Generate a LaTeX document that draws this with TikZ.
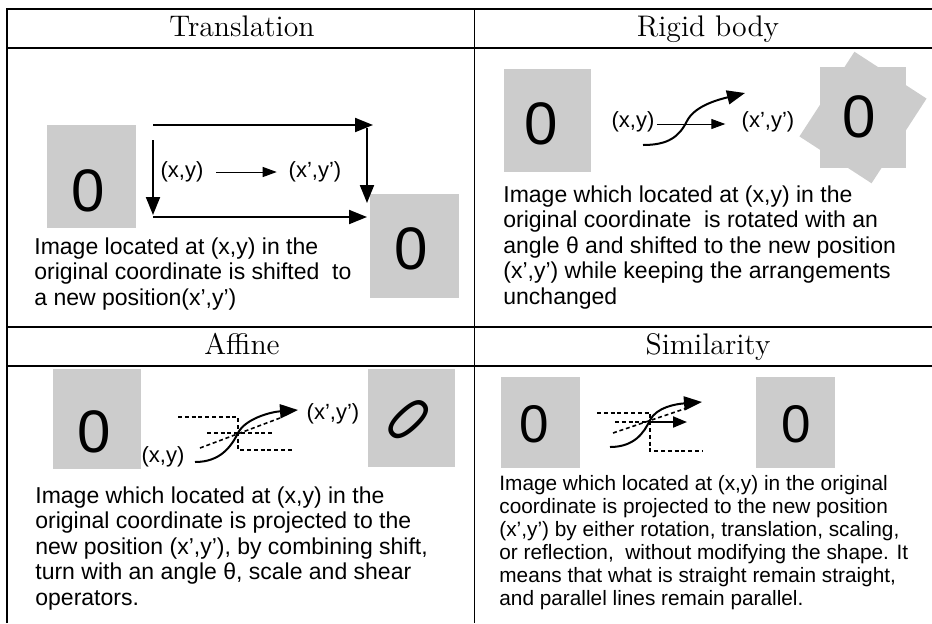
\documentclass[tikz,border=0pt]{standalone}
\usepackage{fontspec}
\newfontfamily\arial{Liberation Sans}
\usetikzlibrary{arrows.meta}
\definecolor{boxgray}{gray}{0.8}

\begin{document}
\begin{tikzpicture}[x=0.5pt,y=-0.5pt,
    rule/.style={line width=0.6pt},
    head/.style={font=\fontsize{14.9}{17}\selectfont,anchor=base},
    note/.style={font=\arial\fontsize{11.5}{12.8}\selectfont,align=left,anchor=north west,inner sep=0pt},
    small note/.style={note,font=\arial\fontsize{10.4}{11.5}\selectfont},
    coord/.style={font=\arial\fontsize{11}{13}\selectfont,inner sep=0pt},
    digit/.style={font=\arial\fontsize{30}{30}\selectfont,inner sep=0pt},
    small digit/.style={font=\arial\fontsize{26.5}{26.5}\selectfont,inner sep=0pt},
    fat/.style={line width=1pt,-{Triangle[length=9pt,width=7pt]}},
    medium/.style={line width=1pt,-{Triangle[length=7pt,width=5.5pt]}},
    slim/.style={line width=0.5pt,-{Triangle[length=7pt,width=5pt]}},
    guide/.style={line width=0.8pt,dash pattern=on 2pt off 1.4pt}]
\useasboundingbox (0,0) rectangle (932,623);

\draw[rule] (7,623) -- (7,9) -- (932,9);
\draw[rule] (7,48) -- (932,48);
\draw[rule] (7,327) -- (932,327);
\draw[rule] (7,366) -- (932,366);
\draw[rule] (474.5,9) -- (474.5,623);

\node[head] (hTrans)  at (242,36.5) {Translation};
\node[head] (hRigid)  at (708,36.5) {Rigid body};
\node[head] (hAffine) at (242,354)  {Affine};
\node[head] (hSimil)  at (708,354)  {Similarity};

% translation
\fill[boxgray] (47,125) rectangle (136,228);
\fill[boxgray] (370,194) rectangle (459,298);
\node[digit] (tZero)    at (88,190.5) {0};
\node[digit] (tZeroNew) at (411,249)  {0};
\coordinate (tTopA) at (153,125);
\coordinate (tTopB) at (373,125);
\coordinate (tDownA) at (367,128);
\coordinate (tDownB) at (367,203);
\coordinate (tLeftA) at (153,140);
\coordinate (tLeftB) at (153,215);
\coordinate (tBotA) at (153,217);
\coordinate (tBotB) at (367,217);
\draw[fat] (tTopA) -- (tTopB);
\draw[fat] (tDownA) -- (tDownB);
\draw[fat] (tLeftA) -- (tLeftB);
\draw[fat] (tBotA) -- (tBotB);
\node[coord] (tXY)    at (182,172) {(x,y)};
\node[coord] (tXYnew) at (315,172) {(x’,y’)};
\draw[slim,shorten <=6.3pt,shorten >=5.8pt] (tXY) -- (tXYnew);
\node[note] (tNote) at (34,237)
  {Image located at (x,y) in the\\original coordinate is shifted\ \ to\\a new position(x’,y’)};

% rigid body
\fill[boxgray] (504,69) rectangle (591,172);
\fill[boxgray] (820,67) rectangle (906,168);
\fill[boxgray,rotate around={-33:(863,117.5)}] (820,67) rectangle (906,168);
\node[digit] (rZero)    at (541,124) {0};
\node[digit] (rZeroNew) at (859,117) {0};
\node[coord] (rXY)    at (633,122) {(x,y)};
\node[coord] (rXYnew) at (768,122) {(x’,y’)};
\draw[slim] ([xshift=1pt,yshift=-1pt]rXY.east) -- ([xshift=-8pt,yshift=-1pt]rXYnew.west);
\coordinate (rCurveA) at (643,145);
\coordinate (rCurveM) at (687,121);
\coordinate (rCurveB) at (745,93);
\draw[fat] (rCurveA) .. controls (668,145) and (679,137) .. (rCurveM)
                     .. controls (695,105) and (721,99) .. (rCurveB);
\node[note] (rNote) at (503,185)
  {Image which located at (x,y) in the\\original coordinate\ \ is rotated with an\\angle θ and shifted to the new position\\(x’,y’) while keeping the arrangements\\unchanged};

% affine
\fill[boxgray] (53,369) rectangle (141,469);
\fill[boxgray] (368,369) rectangle (455,467);
\node[digit] (aZero) at (94,432) {0};
\node[digit,font=\arial\fontsize{36}{36}\selectfont,rotate=-47,xscale=0.68,yscale=0.93]
  (aZeroNew) at (408.5,419.5) {0};
\node[coord] (aXY)    at (163,457) {(x,y)};
\node[coord] (aXYnew) at (333,414) {(x’,y’)};
\draw[guide] (178,417) -- (238,417) -- (238,450) -- (293,450);
\draw[guide] (207,433) -- (272,433);
\draw[guide] (200,448) -- (280,418);
\coordinate (aCurveA) at (195,462);
\coordinate (aCurveM) at (238,433);
\coordinate (aCurveB) at (298,410);
\draw[fat] (aCurveA) .. controls (220,462) and (231,447) .. (aCurveM)
                     .. controls (245,419) and (270,412) .. (aCurveB);
\node[note] (aNote) at (35,486)
  {Image which located at (x,y) in the\\original coordinate is projected to the\\new position (x’,y’), by combining shift,\\turn with an angle θ, scale and shear\\operators.};

% similarity
\fill[boxgray] (501,377) rectangle (580,468);
\fill[boxgray] (756,377) rectangle (835,468);
\node[small digit] (sZero)    at (534,424) {0};
\node[small digit] (sZeroNew) at (796,424) {0};
\draw[guide] (597,413) -- (650,413) -- (650,451) -- (702,451);
\draw[guide] (615,422) -- (650,422);
\draw[guide] (613,433) -- (690,407);
\coordinate (sShiftA) at (650,422);
\coordinate (sShiftB) at (687,422);
\draw[medium] (sShiftA) -- (sShiftB);
\coordinate (sCurveA) at (610,447);
\coordinate (sCurveM) at (650,420);
\coordinate (sCurveB) at (702,402);
\draw[fat] (sCurveA) .. controls (634,447) and (644,433) .. (sCurveM)
                     .. controls (657,407) and (676,404) .. (sCurveB);
\node[small note] (sNote) at (499,475)
  {Image which located at (x,y) in the original\\coordinate is projected to the new position\\(x’,y’) by either rotation, translation, scaling,\\or reflection,\ \ without modifying the shape. It\\means that what is straight remain straight,\\and parallel lines remain parallel.};
\end{tikzpicture}
\end{document}
